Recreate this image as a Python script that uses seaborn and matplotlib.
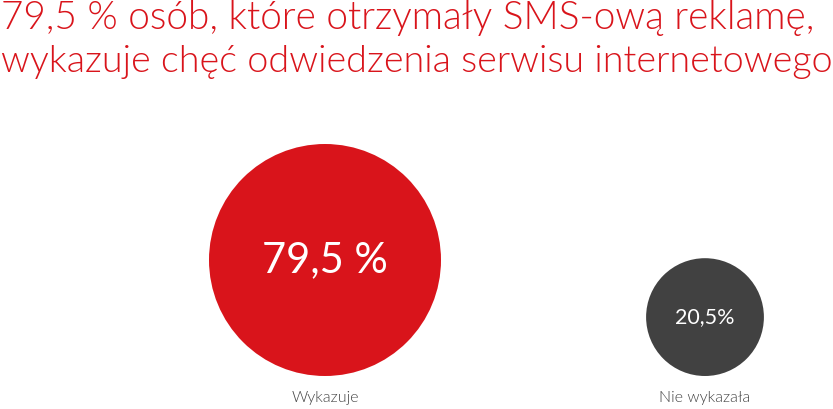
import numpy as np
import pandas as pd
import matplotlib
matplotlib.use("Agg")
import matplotlib.pyplot as plt
import seaborn as sns

# data
categories = ["Wykazuje", "Nie wykazała"]
values = [79.5, 20.5]
value_labels = ["79,5 %", "20,5%"]
colors = ["#d9141b", "#414141"]
title_lines = ["79,5 % osób, które otrzymały SMS-ową reklamę,",
               "wykazuje chęć odwiedzenia serwisu internetowego"]

W, H, DPI = 833, 409, 100
R_MAX = 116          # radius (px) of the largest bubble
BASE = 376           # bubbles sit on a common bottom line (px)

sns.set_style("white")
plt.rcParams['font.family'] = ['Lato', 'DejaVu Sans']

df = pd.DataFrame({"cat": categories, "val": values, "lab": value_labels})
df["r"] = R_MAX * np.sqrt(df["val"] / df["val"].max())
df["y"] = BASE - df["r"]
# marker area in pt^2 from the pixel radius
df["s"] = (2 * df["r"] * 72 / DPI) ** 2

fig = plt.figure(figsize=(W / DPI, H / DPI), dpi=DPI)
ax = fig.add_axes([0, 0, 1, 1])

sns.scatterplot(data=df, x="cat", y="y", hue="cat", palette=colors,
                size="cat", sizes=dict(zip(df["cat"], df["s"])),
                legend=False, linewidth=0, ax=ax)

# categorical x: put the two bubbles at 325 px and 705 px
px = [325, 705]
unit = px[1] - px[0]
ax.set_xlim(-px[0] / unit, 1 + (W - px[1]) / unit)
ax.set_ylim(H, 0)
ax.axis("off")

big_fs = [30, 15.5]
for i, row in df.iterrows():
    ax.text(i, row["y"], row["lab"], color="white", fontsize=big_fs[i],
            ha="center", va="center", fontweight="normal")
    ax.text(i, 398, row["cat"], color="#444444", fontsize=11.5,
            ha="center", va="center", fontweight=300)

fig.text(1 / W, 1 - 29 / H, title_lines[0], color="#d9141b", fontsize=28,
         fontweight=300, ha="left", va="baseline")
fig.text(1 / W, 1 - 72 / H, title_lines[1], color="#d9141b", fontsize=27.2,
         fontweight=300, ha="left", va="baseline")

fig.savefig("out.png", dpi=DPI)
